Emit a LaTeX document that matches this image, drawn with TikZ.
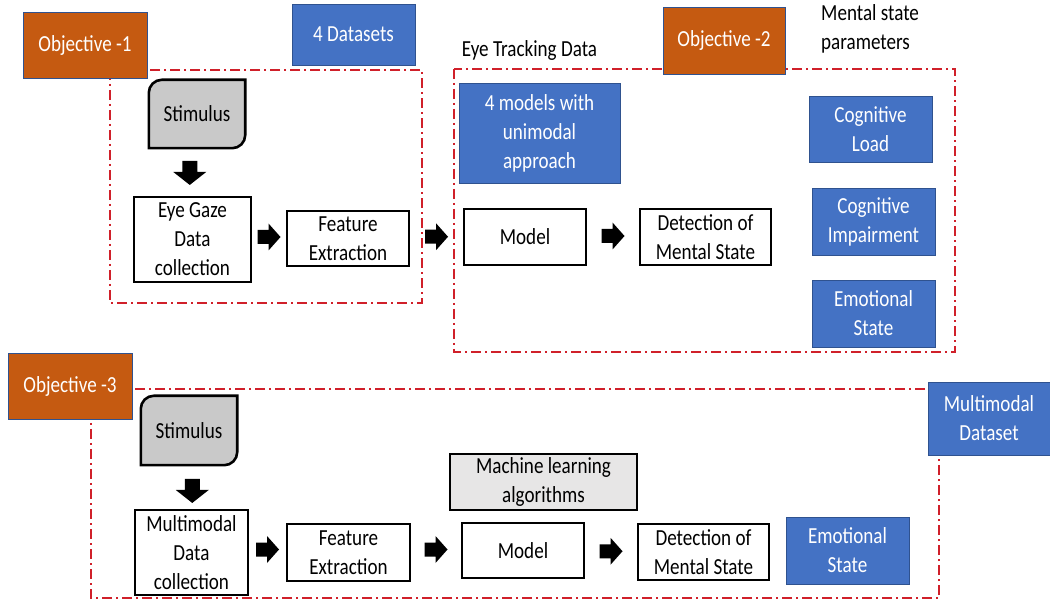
\documentclass[tikz,border=0pt]{standalone}
\usepackage{fontspec}
\setmainfont{Carlito}[FakeStretch=0.83]
\usetikzlibrary{calc,backgrounds}

\definecolor{objorange}{HTML}{C55A11}
\definecolor{accblue}{HTML}{4472C4}
\definecolor{edgeblue}{HTML}{2F528F}
\definecolor{stimgray}{HTML}{C9C9C9}
\definecolor{algogray}{HTML}{E7E6E6}
\definecolor{groupred}{HTML}{D0202A}

\tikzset{
  txt/.style={font=\fontsize{23}{29}\selectfont, align=center, inner sep=0pt},
  objbox/.style={txt, fill=objorange, draw=edgeblue, line width=0.8pt, text=white},
  databox/.style={txt, fill=accblue, draw=edgeblue, line width=0.8pt, text=white},
  stepbox/.style={txt, draw=black, line width=2.6pt, fill=white},
  algobox/.style={stepbox, fill=algogray},
  stimline/.style={draw=black, line width=2.6pt, fill=stimgray},
  group/.style={draw=groupred, line width=1.6pt, dash pattern=on 10pt off 4pt on 2pt off 4pt},
  caption/.style={font=\fontsize{23}{29}\selectfont, inner sep=0pt, align=left},
  size/.style 2 args={minimum width=#1pt, minimum height=#2pt},
  % block arrow pointing right, centred on its position
  rblock/.pic={\fill[black] (-11.5,-7) -- (-0.5,-7) -- (-0.5,-13.5) -- (11.5,0)
     -- (-0.5,13.5) -- (-0.5,7) -- (-11.5,7) -- cycle;},
  % block arrow pointing down, centred on its position
  dblock/.pic={\fill[black] (-7.5,-12) -- (7.5,-12) -- (7.5,-1) -- (16.5,-1)
     -- (0,12) -- (-16.5,-1) -- (-7.5,-1) -- cycle;}
}

% outline of a stimulus card: rounded top-left and bottom-right corners
\newcommand\stimoutline[1]{%
  \begin{scope}[on background layer, x=1pt, y=1pt]
    \draw[stimline] (#1.south west) -- ([yshift=-13pt]#1.north west)
      arc[start angle=180, end angle=90, radius=13pt] -- (#1.north east)
      -- ([yshift=13pt]#1.south east)
      arc[start angle=0, end angle=-90, radius=13pt] -- cycle;
  \end{scope}}

\begin{document}
\begin{tikzpicture}[x=1pt, y=-1pt]
\useasboundingbox (0,0) rectangle (1050,601);

% group frames
\draw[group] (110,70) rectangle (422,303);
\draw[group] (454,69) rectangle (955,352);
\draw[group] (91,389) rectangle (939,598);

% ---- Objective 1 ----
\node[objbox, size={124}{66}] (obj1) at (85,45) {Objective -1};
\node[databox, size={123}{61}] (ds4) at (353.5,34.5) {4 Datasets};
\node[txt, size={96}{68}] (stim1) at (197,114) {Stimulus};
\stimoutline{stim1}
\node[stepbox, size={117}{85}] (egd) at (192.5,239.5) {Eye Gaze\\Data\\collection};
\node[stepbox, size={122}{55}] (fe1) at (348,238.5) {Feature\\Extraction};

% ---- Objective 2 ----
\node[caption] (etd) at (529.5,50) {Eye Tracking Data};
\node[objbox, size={122}{67}] (obj2) at (724,40.5) {Objective -2};
\node[caption, anchor=west] (msp) at (821,29) {Mental state\\parameters};
\node[databox, size={161}{100}] (m4) at (539.5,133) {4 models with\\unimodal\\approach};
\node[stepbox, size={122}{56}] (model1) at (525,237) {Model};
\node[stepbox, size={131}{56}] (det1) at (705.5,237) {Detection of\\Mental State};
\node[databox, size={123}{66}] (cl) at (870.5,129) {Cognitive\\Load};
\node[databox, size={123}{67}] (ci) at (873.5,221.5) {Cognitive\\Impairment};
\node[databox, size={123}{67}] (es1) at (873.5,313.5) {Emotional\\State};

% ---- Objective 3 ----
\node[objbox, size={124}{66}] (obj3) at (70,386) {Objective -3};
\node[databox, size={122}{73}] (mmd) at (989,418.5) {Multimodal\\Dataset};
\node[txt, size={96}{69}] (stim2) at (189,430.5) {Stimulus};
\stimoutline{stim2}
\node[stepbox, size={113}{85}] (mdc) at (191.5,552.5) {Multimodal\\Data\\collection};
\node[stepbox, size={123}{57}] (fe2) at (348.5,552.5) {Feature\\Extraction};
\node[algobox, size={187}{56}] (mla) at (543.5,482) {Machine learning\\algorithms};
\node[stepbox, size={122}{55}] (model2) at (523,550.5) {Model};
\node[stepbox, size={131}{56}] (det2) at (703.5,552) {Detection of\\Mental State};
\node[databox, size={123}{67}] (es2) at (847.5,550.5) {Emotional\\State};

% block arrows between the steps
\pic at ($(stim1.south)!0.5!(egd.north)+(-5,1)$) {dblock};
\pic at ($(egd.east)!0.5!(fe1.west)+(0,-2)$) {rblock};
\pic at ($(fe1.east)!0.5!(model1.west)+(0,-1)$) {rblock};
\pic at ($(model1.east)!0.5!(det1.west)+(0,-1)$) {rblock};

\pic at ($(stim2.south)!0.5!(mdc.north)+(2,4)$) {dblock};
\pic at ($(mdc.east)!0.5!(fe2.west)+(0,-3)$) {rblock};
\pic at ($(fe2.east)!0.5!(model2.west)+(0,-2)$) {rblock};
\pic at ($(model2.east)!0.5!(det2.west)+(0,0)$) {rblock};
\end{tikzpicture}
\end{document}
